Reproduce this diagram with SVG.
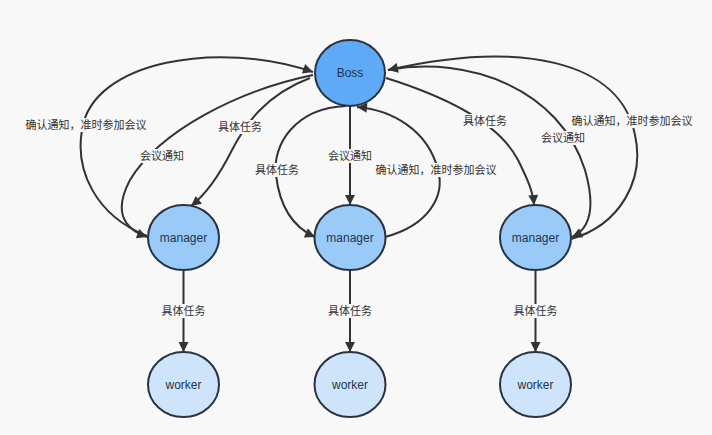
<svg xmlns="http://www.w3.org/2000/svg" width="712" height="435" viewBox="0 0 712 435">
<style>
.bg{fill:#f8f8f8}
.node{stroke:#2b3340;stroke-width:2}
.boss{fill:#5eaaf6}
.mgr{fill:#9acbf8}
.wkr{fill:#cde4fa}
.nt{font-family:"Liberation Sans","Noto Sans",sans-serif;font-size:12px;fill:#1f3550;text-anchor:middle}
.e{fill:none;stroke:#333;stroke-width:2}
.lb{fill:#f8f8f8}
.lt{font-family:"Liberation Sans","Noto Sans CJK SC",sans-serif;font-size:11px;fill:#333;text-anchor:middle}
</style>
<defs>
<marker id="ah" viewBox="0 0 10 10" refX="10" refY="5" markerWidth="6" markerHeight="5" markerUnits="strokeWidth" orient="auto">
<path d="M0,0 L10,5 L0,10 Z" fill="#333"/>
</marker>
</defs>
<rect class="bg" x="0" y="0" width="712" height="435"/>
<g id="connectors">
<path class="e" marker-end="url(#ah)" d="M147,236 C95,215 75,170 82,130 C92,60 220,40 313,72"/>
<path class="e" marker-end="url(#ah)" d="M313,75 C240,90 160,130 130,180 C114,210 122,228 147,237"/>
<path class="e" marker-end="url(#ah)" d="M310,78 C265,95 245,125 232,150 C218,178 205,195 191,206"/>
<path class="e" marker-end="url(#ah)" d="M350,106 L350,205"/>
<path class="e" marker-end="url(#ah)" d="M346,106 C295,108 272,145 276,175 C280,210 295,228 315,237"/>
<path class="e" marker-end="url(#ah)" d="M385,237 C430,225 445,195 438,170 C428,130 392,110 357,107"/>
<path class="e" marker-end="url(#ah)" d="M386,78 C450,98 500,125 518,160 C528,180 533,192 534,205"/>
<path class="e" marker-end="url(#ah)" d="M388,70 C470,55 560,90 585,170 C595,205 592,228 572,237"/>
<path class="e" marker-end="url(#ah)" d="M571,239 C620,225 645,180 635,135 C620,60 520,40 388,70"/>
<path class="e" marker-end="url(#ah)" d="M183.5,270 L183.5,352"/>
<path class="e" marker-end="url(#ah)" d="M350,270 L350,352"/>
<path class="e" marker-end="url(#ah)" d="M535.5,270 L535.5,352"/>
<g id="labels">
<rect class="lb" x="25" y="118" width="122" height="14"/><text class="lt" x="86" y="129">确认通知，准时参加会议</text>
<rect class="lb" x="139" y="149" width="46" height="14"/><text class="lt" x="162" y="160">会议通知</text>
<rect class="lb" x="217" y="120" width="46" height="14"/><text class="lt" x="240" y="131">具体任务</text>
<rect class="lb" x="254" y="163" width="46" height="14"/><text class="lt" x="277" y="174">具体任务</text>
<rect class="lb" x="327" y="149" width="46" height="14"/><text class="lt" x="350" y="160">会议通知</text>
<rect class="lb" x="375" y="163" width="122" height="14"/><text class="lt" x="436" y="174">确认通知，准时参加会议</text>
<rect class="lb" x="462" y="114" width="46" height="14"/><text class="lt" x="485" y="125">具体任务</text>
<rect class="lb" x="540" y="131" width="46" height="14"/><text class="lt" x="563" y="142">会议通知</text>
<rect class="lb" x="571" y="114" width="122" height="14"/><text class="lt" x="632" y="125">确认通知，准时参加会议</text>
<rect class="lb" x="160.5" y="304" width="46" height="14"/><text class="lt" x="183.5" y="315">具体任务</text>
<rect class="lb" x="327" y="304" width="46" height="14"/><text class="lt" x="350" y="315">具体任务</text>
<rect class="lb" x="512.5" y="304" width="46" height="14"/><text class="lt" x="535.5" y="315">具体任务</text>
</g>
</g>
<g id="boss"><ellipse class="node boss" cx="350" cy="73" rx="35" ry="33"/><text class="nt" x="350" y="77">Boss</text></g>
<g id="manager1"><ellipse class="node mgr" cx="183.5" cy="237.5" rx="35.5" ry="32.5"/><text class="nt" x="183.5" y="241.5">manager</text></g>
<g id="manager2"><ellipse class="node mgr" cx="350" cy="237.5" rx="35.5" ry="32.5"/><text class="nt" x="350" y="241.5">manager</text></g>
<g id="manager3"><ellipse class="node mgr" cx="535.5" cy="237.5" rx="35.5" ry="32.5"/><text class="nt" x="535.5" y="241.5">manager</text></g>
<g id="worker1"><ellipse class="node wkr" cx="183.5" cy="384.5" rx="35.5" ry="32.5"/><text class="nt" x="183.5" y="388.5">worker</text></g>
<g id="worker2"><ellipse class="node wkr" cx="350" cy="384.5" rx="35.5" ry="32.5"/><text class="nt" x="350" y="388.5">worker</text></g>
<g id="worker3"><ellipse class="node wkr" cx="535.5" cy="384.5" rx="35.5" ry="32.5"/><text class="nt" x="535.5" y="388.5">worker</text></g>
</svg>
